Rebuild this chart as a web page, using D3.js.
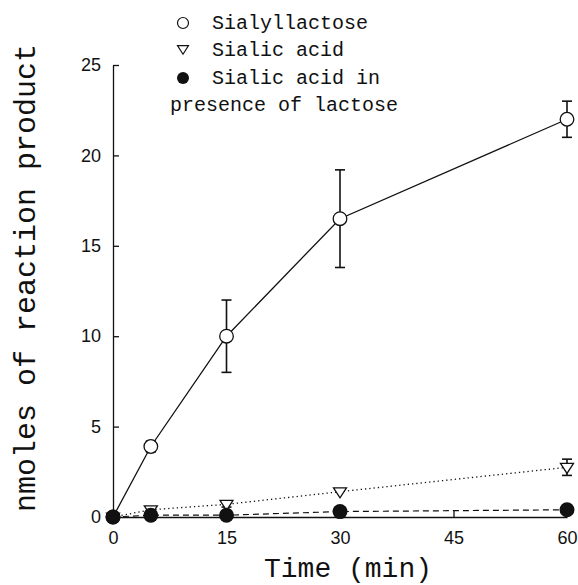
<!DOCTYPE html>
<html><head><meta charset="utf-8">
<script src="https://cdn.jsdelivr.net/npm/d3@7"></script>
<style>body{margin:0;background:#fff}svg{display:block}</style>
</head><body>
<script>
const times = [0, 5, 15, 30, 60];
const sialyllactose = [0, 3.9, 10, 16.5, 22];
const sialyllactoseErr = [0, 0.3, 2, 2.7, 1];
const sialicAcid = [0, 0.4, 0.7, 1.4, 2.75];
const sialicAcidErr = [0, 0.12, 0.15, 0, 0.45];
const sialicLactose = [0, 0.1, 0.1, 0.3, 0.4];
const xTicks = [0, 15, 30, 45, 60];
const yTicks = [0, 5, 10, 15, 20, 25];
const legendLabels = ["Sialyllactose", "Sialic acid", "Sialic acid in", "presence of lactose"];

const W = 578, H = 585;
const svg = d3.select("body").append("svg").attr("width", W).attr("height", H);
const x = d3.scaleLinear().domain([0, 60]).range([113, 567]);
const y = d3.scaleLinear().domain([0, 25]).range([517, 65]);
const ink = "#111";

// axes
const xAxis = svg.append("g").attr("transform", `translate(0,${y(0)})`)
  .call(d3.axisBottom(x).tickValues(xTicks).tickSizeInner(-6).tickSizeOuter(0).tickPadding(14));
const yAxis = svg.append("g").attr("transform", `translate(${x(0)},0)`)
  .call(d3.axisLeft(y).tickValues(yTicks).tickSizeInner(-6).tickSizeOuter(0).tickPadding(12));
[xAxis, yAxis].forEach(g => {
  g.selectAll("path,line").attr("stroke", ink).attr("stroke-width", 1.3);
  g.selectAll("text").attr("font-family", "Liberation Sans, Arial, sans-serif")
    .attr("font-size", 18).attr("fill", ink);
});

// axis titles
svg.append("text").attr("x", 348).attr("y", 577).attr("text-anchor", "middle")
  .attr("font-family", "Liberation Mono, Courier New, monospace").attr("font-size", 28)
  .attr("fill", ink).text("Time (min)");
svg.append("text").attr("transform", "translate(35,278) rotate(-90)").attr("text-anchor", "middle")
  .attr("font-family", "Liberation Mono, Courier New, monospace").attr("font-size", 30)
  .attr("fill", ink).text("nmoles of reaction product");

const pts = arr => times.map((t, i) => [x(t), y(arr[i])]);
const line = d3.line();

// lines
svg.append("path").attr("d", line(pts(sialicLactose))).attr("fill", "none")
  .attr("stroke", ink).attr("stroke-width", 1.2).attr("stroke-dasharray", "6,4");
svg.append("path").attr("d", line(pts(sialicAcid))).attr("fill", "none")
  .attr("stroke", ink).attr("stroke-width", 1.3).attr("stroke-dasharray", "1.3,3");
svg.append("path").attr("d", line(pts(sialyllactose))).attr("fill", "none")
  .attr("stroke", ink).attr("stroke-width", 1.3);

// error bars
function errBars(vals, errs) {
  times.forEach((t, i) => {
    if (!errs[i]) return;
    const cx = x(t), y1 = y(vals[i] + errs[i]), y2 = y(vals[i] - errs[i]);
    const g = svg.append("g").attr("stroke", ink).attr("stroke-width", 1.6);
    g.append("line").attr("x1", cx).attr("x2", cx).attr("y1", y1).attr("y2", y2);
    g.append("line").attr("x1", cx - 5).attr("x2", cx + 5).attr("y1", y1).attr("y2", y1);
    g.append("line").attr("x1", cx - 5).attr("x2", cx + 5).attr("y1", y2).attr("y2", y2);
  });
}
errBars(sialyllactose, sialyllactoseErr);
errBars(sialicAcid, sialicAcidErr);

const triPath = (cx, cy, s) => `M${cx - s},${cy - s * 0.6}L${cx + s},${cy - s * 0.6}L${cx},${cy + s * 0.95}Z`;

// markers
svg.selectAll(".tri").data(pts(sialicAcid)).enter().append("path")
  .attr("d", d => triPath(d[0], d[1], 6.5)).attr("fill", "#fff").attr("stroke", ink).attr("stroke-width", 1.3);
svg.selectAll(".oc").data(pts(sialyllactose)).enter().append("circle")
  .attr("cx", d => d[0]).attr("cy", d => d[1]).attr("r", 6.8)
  .attr("fill", "#fff").attr("stroke", ink).attr("stroke-width", 1.3);
svg.selectAll(".fc").data(pts(sialicLactose)).enter().append("circle")
  .attr("cx", d => d[0]).attr("cy", d => d[1]).attr("r", 7.5).attr("fill", ink);

// legend
const lg = svg.append("g").attr("font-family", "Liberation Mono, Courier New, monospace")
  .attr("font-size", 20).attr("fill", ink);
const lx = 183, ly = [23, 50, 78];
lg.append("circle").attr("cx", lx).attr("cy", ly[0]).attr("r", 5.5).attr("fill", "#fff").attr("stroke", ink).attr("stroke-width", 1.2);
lg.append("path").attr("d", triPath(lx, ly[1] - 1, 5.5)).attr("fill", "#fff").attr("stroke", ink).attr("stroke-width", 1.2);
lg.append("circle").attr("cx", lx).attr("cy", ly[2]).attr("r", 6).attr("fill", ink);
lg.append("text").attr("x", 212).attr("y", ly[0] + 6).text(legendLabels[0]);
lg.append("text").attr("x", 212).attr("y", ly[1] + 6).text(legendLabels[1]);
lg.append("text").attr("x", 212).attr("y", ly[2] + 6).text(legendLabels[2]);
lg.append("text").attr("x", 170).attr("y", 111).text(legendLabels[3]);
</script>
</body></html>
